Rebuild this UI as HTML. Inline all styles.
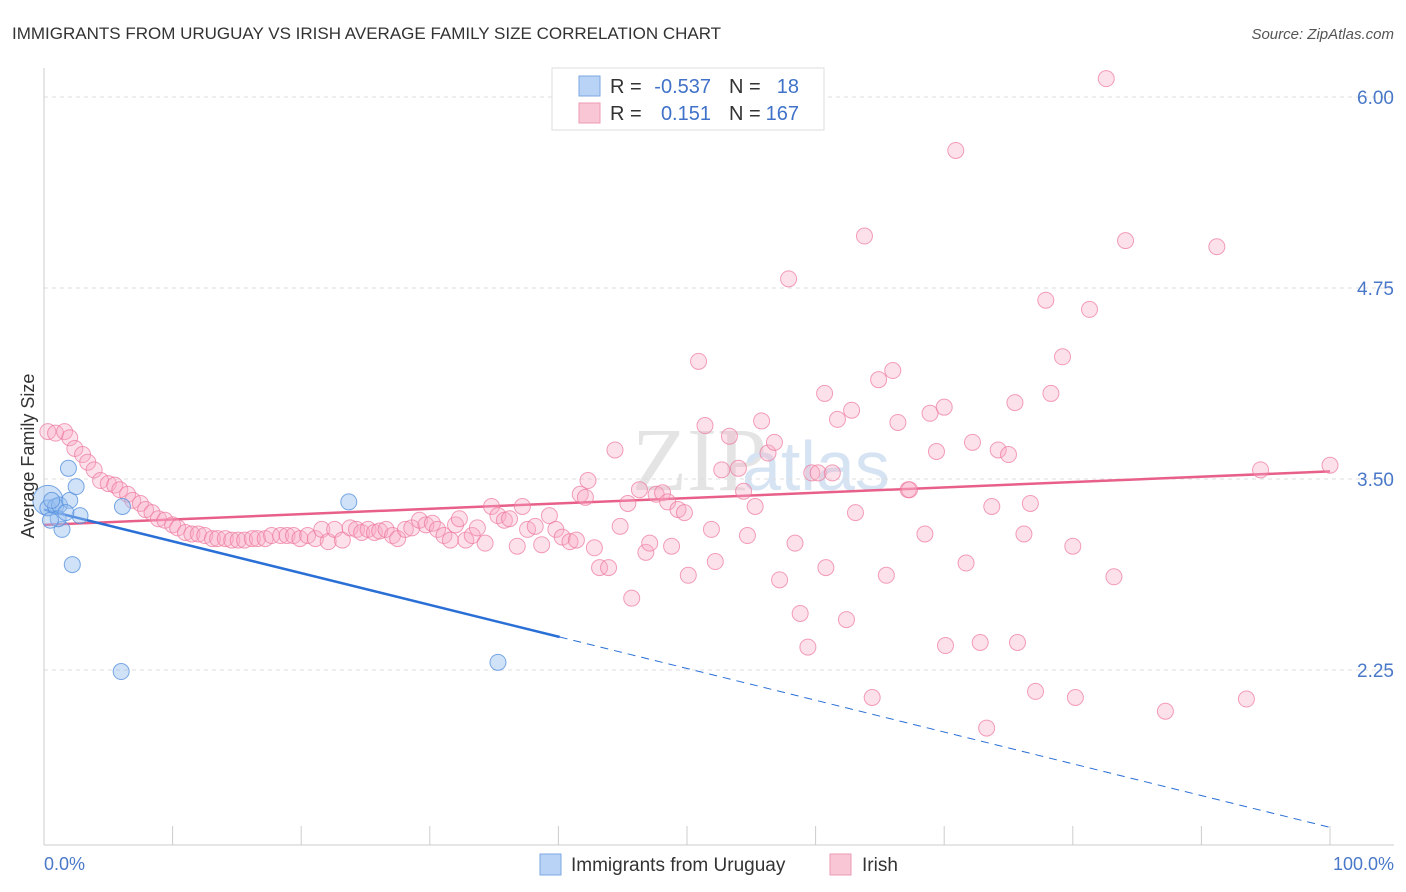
<!DOCTYPE html>
<html><head><meta charset="utf-8"><style>
body{margin:0;background:#fff;font-family:"Liberation Sans",sans-serif;}
svg{display:block}
</style></head><body>
<svg id="chart" width="1406" height="892">
<text x="12" y="39" font-size="17" fill="#333">IMMIGRANTS FROM URUGUAY VS IRISH AVERAGE FAMILY SIZE CORRELATION CHART</text>
<text x="1394" y="39" font-size="15" fill="#555" font-style="italic" text-anchor="end">Source: ZipAtlas.com</text>
<text x="632" y="490" font-size="90" fill="#e4e4e4" font-family="Liberation Serif,serif">ZIP</text>
<text x="742" y="490" font-size="70" fill="#d5e3f3">atlas</text>
<g id="grid"></g>
<g id="axes"></g>
<g id="lines"></g>
<g id="pts"></g>
<text transform="translate(34,456) rotate(-90)" font-size="18" fill="#333" text-anchor="middle">Average Family Size</text>
<text x="44" y="870" font-size="18" fill="#4a78c8">0.0%</text>
<text x="1394" y="870" font-size="18" fill="#4a78c8" text-anchor="end">100.0%</text>
<g>
<rect x="552" y="68" width="272" height="62" fill="#fff" stroke="#ddd"/>
<rect x="579" y="76" width="21" height="20" fill="#b8d3f6" stroke="#7ea7e0"/>
<rect x="579" y="103" width="21" height="20" fill="#f9c6d5" stroke="#ee9ab3"/>
<text font-size="20" fill="#333"><tspan x="610" y="93">R =</tspan><tspan x="610" y="120">R =</tspan><tspan x="729" y="93">N =</tspan><tspan x="729" y="120">N =</tspan></text>
<text font-size="20" fill="#3f72c8"><tspan x="711" y="93" text-anchor="end">-0.537</tspan><tspan x="711" y="120" text-anchor="end">0.151</tspan><tspan x="799" y="93" text-anchor="end">18</tspan><tspan x="799" y="120" text-anchor="end">167</tspan></text>
</g>
<g>
<rect x="540" y="854" width="21" height="21" fill="#b8d3f6" stroke="#7ea7e0"/>
<text x="571" y="871" font-size="19" fill="#333">Immigrants from Uruguay</text>
<rect x="830" y="854" width="21" height="21" fill="#f9c6d5" stroke="#ee9ab3"/>
<text x="862" y="871" font-size="19" fill="#333">Irish</text>
</g>
</svg>
<script>
const yTicks=[2.25,3.5,4.75,6.0];
const yTickLabels=["2.25","3.50","4.75","6.00"];
const xTickCount=10;
const irishX=[0.3,0.9,1.6,2.0,2.4,3.0,3.4,3.9,4.4,5.0,5.5,5.9,6.5,6.9,7.5,7.9,8.4,8.9,9.4,10.0,10.4,11.0,11.5,12.0,12.5,13.1,13.5,14.1,14.6,15.1,15.6,16.2,16.6,17.2,17.7,18.4,18.9,19.4,19.9,20.5,21.1,21.6,22.1,22.6,23.2,23.8,24.3,24.7,25.2,25.7,26.1,26.6,27.1,27.5,28.1,28.6,29.2,29.7,30.2,30.6,31.1,31.6,32.0,32.3,32.8,33.3,33.7,34.3,34.8,35.3,35.8,36.2,36.8,37.2,37.6,38.2,38.7,39.3,39.8,40.3,40.9,41.4,41.7,42.1,42.3,42.8,43.2,43.9,44.4,44.8,45.4,45.7,46.3,46.8,47.1,47.6,48.1,48.5,48.8,49.3,49.8,50.1,50.9,51.4,51.9,52.2,52.7,53.3,54.0,54.4,54.7,55.3,55.8,56.3,56.8,57.2,57.9,58.4,58.8,59.4,59.7,60.2,60.7,60.8,61.3,61.7,62.4,62.8,63.1,63.8,64.4,64.9,65.5,66.0,66.4,67.2,67.3,68.5,68.9,69.4,70.0,70.1,70.9,71.7,72.2,72.8,73.3,73.7,74.2,75.0,75.5,75.7,76.2,76.7,77.1,77.9,78.3,79.2,80.0,80.2,81.3,82.6,83.2,84.1,87.2,91.2,93.5,94.6,100.0];
const irishY=[3.81,3.80,3.81,3.77,3.70,3.66,3.61,3.56,3.49,3.47,3.46,3.43,3.40,3.36,3.34,3.30,3.28,3.24,3.23,3.20,3.18,3.15,3.14,3.14,3.13,3.11,3.11,3.11,3.10,3.10,3.10,3.11,3.11,3.11,3.13,3.13,3.13,3.13,3.11,3.13,3.11,3.17,3.09,3.17,3.10,3.18,3.17,3.15,3.17,3.15,3.16,3.17,3.13,3.11,3.17,3.18,3.23,3.20,3.21,3.17,3.13,3.10,3.20,3.24,3.10,3.13,3.18,3.08,3.32,3.26,3.23,3.24,3.06,3.32,3.17,3.19,3.07,3.26,3.17,3.12,3.09,3.10,3.40,3.38,3.49,3.05,2.92,2.92,3.69,3.19,3.34,2.72,3.43,3.02,3.08,3.40,3.41,3.35,3.06,3.30,3.28,2.87,4.27,3.85,3.17,2.96,3.56,3.78,3.57,3.42,3.13,3.32,3.88,3.67,3.74,2.84,4.81,3.08,2.62,2.40,3.54,3.54,4.06,2.92,3.54,3.89,2.58,3.95,3.28,5.09,2.07,4.15,2.87,4.21,3.87,3.43,3.43,3.14,3.93,3.68,3.97,2.41,5.65,2.95,3.74,2.43,1.87,3.32,3.69,3.66,4.00,2.43,3.14,3.34,2.11,4.67,4.06,4.30,3.06,2.07,4.61,6.12,2.86,5.06,1.98,5.02,2.06,3.56,3.59];
const uruX=[0.3,0.3,0.9,1.2,1.4,1.1,1.9,2.0,2.2,2.5,2.8,6.1,6.0,23.7,35.3,1.7,0.5,0.6];
const uruY=[3.36,3.31,3.32,3.33,3.17,3.24,3.57,3.36,2.94,3.45,3.26,3.32,2.24,3.35,2.30,3.28,3.23,3.36];
const uruSize=[15,8,8,8,8,8,8,8,8,8,8,8,8,8,8,8,8,8];
const irishTrend=[3.20,3.55];
const uruTrend=[3.30,1.22];
const uruSolidEnd=40.1;

const NS="http://www.w3.org/2000/svg";
const X0=44,X1=1330,YB=845,YT=68;
const sx=v=>X0+(X1-X0)*v/100;
const sy=v=>479-(v-3.5)*152.8;
function mk(tag,attrs,parent){const e=document.createElementNS(NS,tag);for(const k in attrs)e.setAttribute(k,attrs[k]);document.getElementById(parent).appendChild(e);return e;}

yTicks.forEach((t,i)=>{
  const l=mk('line',{x1:X0,x2:1394,y1:sy(t),y2:sy(t),stroke:'#ddd','stroke-dasharray':'4,4'},'grid');
  
  
  const tx=mk('text',{x:1394,y:sy(t)+7,'font-size':19,fill:'#4a78c8','text-anchor':'end'},'grid');
  tx.textContent=yTickLabels[i];
  
  
});
const ya=mk('line',{x1:X0,x2:X0,y1:YT,y2:YB,stroke:'#ccc'},'axes');


const xa=mk('line',{x1:X0,x2:1394,y1:YB,y2:YB,stroke:'#ccc'},'axes');


for(let k=1;k<=xTickCount;k++){
  const t=mk('line',{x1:sx(k*10),x2:sx(k*10),y1:826,y2:YB,stroke:'#ccc'},'axes');
  
  
}
irishX.forEach((x,i)=>{
  const c=mk('circle',{cx:sx(x),cy:sy(irishY[i]),r:8,fill:'rgba(248,170,195,0.35)',stroke:'rgba(236,120,155,0.7)','stroke-width':1},'pts');
  
  
});
uruX.forEach((x,i)=>{
  const c=mk('circle',{cx:sx(x),cy:sy(uruY[i]),r:uruSize[i],fill:'rgba(150,190,240,0.45)',stroke:'rgba(80,140,220,0.75)','stroke-width':1},'pts');
  
  
});
const it=mk('line',{x1:sx(0),y1:sy(irishTrend[0]),x2:sx(100),y2:sy(irishTrend[1]),stroke:'#e8608a','stroke-width':2.5},'lines');


const uy=v=>uruTrend[0]+(uruTrend[1]-uruTrend[0])*v/100;
const us=mk('line',{x1:sx(0),y1:sy(uruTrend[0]),x2:sx(uruSolidEnd),y2:sy(uy(uruSolidEnd)),stroke:'#2a6fd6','stroke-width':2.5},'lines');


const ud=mk('line',{x1:sx(uruSolidEnd),y1:sy(uy(uruSolidEnd)),x2:sx(100),y2:sy(uruTrend[1]),stroke:'#2a6fd6','stroke-width':1,'stroke-dasharray':'8,6'},'lines');


</script>
</body></html>
